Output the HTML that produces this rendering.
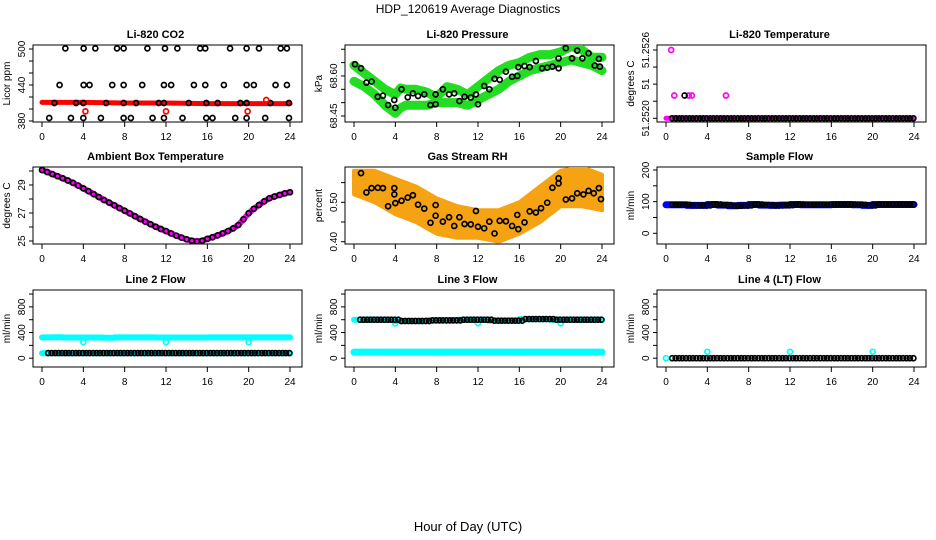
<!DOCTYPE html>
<html><head><meta charset="utf-8">
<style>
html,body{margin:0;padding:0;background:#fff;}
svg{display:block;font-family:"Liberation Sans",Arial,sans-serif;}
</style></head>
<body>
<svg id="c" width="936" height="540" viewBox="0 0 936 540" xmlns="http://www.w3.org/2000/svg">
<text x="468" y="13" font-size="12" text-anchor="middle">HDP_120619  Average Diagnostics</text>
<text x="468" y="531" font-size="13" text-anchor="middle">Hour of Day (UTC)</text>
</svg>
<script>
// ---------- data ----------
const xTicks = [0,4,8,12,16,20,24];
// CO2
const co2BandHours = [0,4,8,12,16,20,24];
const co2BandVals = [411,411,410,410,409,409,409];
const co2Hours = [2.26,4.03,5.16,7.26,7.9,10.2,11.9,13.1,15.3,15.8,18.2,19.8,21,23.1,23.7,
 1.7,4.03,4.6,6.8,7.9,9.7,11.8,12.5,14.7,15.8,17.6,19.8,20.5,22.6,23.7,
 1.2,3.3,4.0,6.2,7.9,9.1,11.3,11.8,14.2,15.9,17.0,19.2,19.8,22.1,23.9,
 0.7,2.8,4.0,5.7,7.9,8.6,10.7,11.8,13.6,15.9,16.5,18.7,19.8,21.6,23.9];
const co2Vals = [501,501,501,501,501,501,501,501,501,501,501,501,501,501,501,
 440,440,440,440,440,440,440,440,440,440,440,440,440,440,440,
 410,410,410,410,410,410,410,410,410,410,410,410,410,410,410,
 385,385,385,385,385,385,385,385,385,385,385,385,385,385,385];
const co2RedHours = [4.2,12,19.9,21.7];
const co2RedVals = [396,396,396,415];
// Pressure
const presBandHours = [0,1,2,3,4,4.5,5,6,7,8,9,10,11,12,13,14,15,16,17,18,19,20,21,22,23,24];
const presUpper = [68.64,68.61,68.58,68.55,68.53,68.555,68.55,68.55,68.54,68.52,68.56,68.55,68.53,68.56,68.59,68.62,68.64,68.65,68.67,68.68,68.68,68.69,68.71,68.70,68.67,68.67];
const presLower = [68.58,68.56,68.53,68.49,68.46,68.48,68.49,68.49,68.49,68.50,68.50,68.50,68.49,68.51,68.53,68.55,68.58,68.60,68.62,68.63,68.64,68.65,68.66,68.65,68.64,68.62];
const presHours = [0.1,0.68,1.2,1.7,2.3,2.8,3.3,3.9,4.0,4.6,5.2,5.7,6.2,6.8,7.4,7.9,7.9,8.6,9.2,9.7,10.2,10.7,11.3,11.8,12,12.6,13.1,13.6,14.1,14.7,15.3,15.8,15.9,16.5,17,17.6,18.2,18.7,19.2,19.8,19.8,20.5,21.1,21.6,22.1,22.7,23.3,23.7,23.8];
const presVals = [68.644,68.629,68.575,68.579,68.522,68.526,68.491,68.51,68.481,68.55,68.52,68.535,68.525,68.531,68.491,68.531,68.494,68.55,68.531,68.535,68.506,68.522,68.519,68.531,68.494,68.5625,68.55,68.589,68.586,68.616,68.597,68.60,68.633,68.6375,68.633,68.656,68.629,68.631,68.635,68.666,68.629,68.704,68.666,68.695,68.666,68.685,68.639,68.664,68.635];
// Li-820 temperature
const tempBandHours = [0,24];
const tempBandVals = [51.2520,51.2520];
const tempOutHours = [0.5,0.8,2.2,2.5,5.8];
const tempOutVals = [51.2526,51.2522,51.2522,51.2522,51.2522];
const tempBlkOutHours = [1.8];
const tempBlkOutVals = [51.2522];
// Ambient box temperature (half-hour steps)
const ambientVals = [30.07,29.93,29.78,29.63,29.48,29.32,29.15,28.96,28.76,28.56,28.35,28.14,27.93,27.74,27.55,27.35,27.16,26.97,26.77,26.57,26.38,26.2,26.02,25.86,25.71,25.54,25.38,25.24,25.12,25.02,24.97,25.02,25.15,25.27,25.40,25.55,25.71,25.9,26.14,26.55,26.98,27.3,27.57,27.83,28.05,28.18,28.29,28.4,28.48];
// Gas stream RH
const rhBandHours = [0,2,4,6,8,10,12,14,16,18,20,22,24];
const rhUpper = [0.58,0.58,0.56,0.54,0.51,0.49,0.48,0.48,0.50,0.54,0.58,0.59,0.57];
const rhLower = [0.52,0.50,0.47,0.45,0.42,0.41,0.41,0.40,0.42,0.45,0.49,0.49,0.48];
const rhHours = [0.68,1.2,1.7,2.3,2.8,3.3,3.9,3.9,4.0,4.6,5.2,5.7,6.2,6.8,7.4,7.9,7.9,8.6,9.2,9.7,10.2,10.7,11.3,11.8,12,12.6,13.1,13.6,14.1,14.7,15.3,15.8,15.9,16.5,17,17.6,18.1,18.7,19.2,19.8,19.8,20.5,21.1,21.6,22.2,22.7,23.2,23.7,23.9];
const rhVals = [0.574,0.525,0.536,0.537,0.536,0.49,0.536,0.52,0.498,0.504,0.512,0.518,0.494,0.484,0.448,0.493,0.466,0.451,0.462,0.44,0.462,0.445,0.444,0.478,0.438,0.434,0.451,0.421,0.453,0.452,0.44,0.468,0.432,0.449,0.477,0.474,0.485,0.499,0.537,0.561,0.548,0.507,0.51,0.523,0.52,0.529,0.523,0.536,0.508];
// Flows (hourly values, hours 0..23)
const sampleFlow = [90,90,88,88,91,89,87,88,91,89,88,89,91,90,90,90,91,91,90,88,91,91,91,91];
const line2Upper = [325,328,322,322,322,322,320,325,325,325,325,322,322,322,322,322,325,325,325,325,325,325,325,325];
const line2Lower = [80,80,80,80,80,80,80,80,80,80,80,80,80,80,80,80,80,80,80,80,80,80,80,80];
const line2DipHours = [4,12,20];
const line2DipVals = [250,250,250];
const line3Upper = [600,600,600,600,580,580,580,590,590,590,600,600,600,585,585,585,610,610,610,600,600,600,600,600];
const line3Lower = [95,95,95,95,95,95,95,95,95,95,95,95,95,95,95,95,95,95,95,95,95,95,95,95];
const line3DipHours = [4,12,20];
const line3DipVals = [545,545,545];
const line4Vals = [0,0,0,0,0,0,0,0,0,0,0,0,0,0,0,0,0,0,0,0,0,0,0,0];
const line4CyanHours = [0,4,12,20];
const line4CyanVals = [0,100,100,100];

// ---------- drawing ----------
const NS = "http://www.w3.org/2000/svg";
const svg = document.getElementById('c');
function mk(tag, attrs, parent){
  const e = document.createElementNS(NS, tag);
  for (const k in attrs) e.setAttribute(k, attrs[k]);
  (parent||svg).appendChild(e);
  return e;
}
const colL = [33,345,657], W = 269;
const rowT = [45,167,290], H = 77;
function panel(col,row,name,title,ylab,yLo,yHi,ticks,labels){
  const L = colL[col], T = rowT[row];
  const g = mk('g',{});
  
  
  const p = {L,T,g,
    x: h => L + 9 + h*248/24,
    y: v => T + H - (v - yLo)/(yHi - yLo)*H};
  const fr = mk('rect',{x:L,y:T,width:W,height:H,fill:'none',stroke:'#000','stroke-width':1},g);
  
  
  const t = mk('text',{x:L+W/2-12,y:T-7,'font-size':11,'font-weight':'bold','text-anchor':'middle'},g);
  
  
  t.textContent = title;
  const yl = mk('text',{x:0,y:0,'font-size':10,'text-anchor':'middle',transform:`translate(${L-23},${T+H/2}) rotate(-90)`},g);
  
  
  yl.textContent = ylab;
  const xa = mk('g',{},g);
  
  
  mk('line',{x1:p.x(0),x2:p.x(24),y1:T+H,y2:T+H,stroke:'#000'},xa);
  xTicks.forEach(h=>{
    mk('line',{x1:p.x(h),x2:p.x(h),y1:T+H,y2:T+H+5,stroke:'#000'},xa);
    const tl = mk('text',{x:p.x(h),y:T+H+18,'font-size':10,'text-anchor':'middle'},xa);
    
    
    tl.textContent = h;
  });
  const ya = mk('g',{},g);
  
  
  mk('line',{x1:L,x2:L,y1:p.y(ticks[0]),y2:p.y(ticks[ticks.length-1]),stroke:'#000'},ya);
  ticks.forEach((v,i)=>{
    mk('line',{x1:L-4,x2:L,y1:p.y(v),y2:p.y(v),stroke:'#000'},ya);
    if (labels[i]!==''){
      const tl = mk('text',{x:0,y:0,'font-size':10,'text-anchor':'middle',transform:`translate(${L-8},${p.y(v)}) rotate(-90)`},ya);
      
      
      tl.textContent = labels[i];
    }
  });
  p.clip = 'clip'+col+row;
  const cp = mk('clipPath',{id:p.clip},g);
  mk('rect',{x:L,y:T,width:W,height:H},cp);
  p.plot = mk('g',{'clip-path':`url(#${p.clip})`},g);
  return p;
}
function band(p,hours,vals,color,w,name){
  const pts = hours.map((h,i)=>p.x(h).toFixed(1)+','+p.y(vals[i]).toFixed(1)).join(' ');
  const e = mk('polyline',{points:pts,fill:'none',stroke:color,'stroke-width':w,'stroke-linecap':'round','stroke-linejoin':'round'},p.plot);
  
  
}
function area(p,hours,up,lo,color,name){
  const a = hours.map((h,i)=>p.x(h).toFixed(1)+','+p.y(up[i]).toFixed(1));
  const b = hours.map((h,i)=>p.x(h).toFixed(1)+','+p.y(lo[i]).toFixed(1)).reverse();
  const e = mk('polygon',{points:a.concat(b).join(' '),fill:color,stroke:color,'stroke-width':4,'stroke-linejoin':'round'},p.plot);
  
  
}
function pts(p,hours,vals,color,name){
  hours.forEach((h,i)=>{
    const e = mk('circle',{cx:p.x(h),cy:p.y(vals[i]),r:2.5,fill:'none',stroke:color,'stroke-width':1.7},p.plot);
    
    
  });
}
function hourlyPts(p,vals,color,name,start){
  const hs=[], vs=[];
  vals.forEach((v,k)=>{ for(let j=0;j<3;j++){ const h=k+start+j*0.34; if(h<=24){hs.push(h);vs.push(v);} } });
  pts(p,hs,vs,color,name);
}
function hourlyBand(p,vals,color,w,name){
  const hs=[], vs=[];
  vals.forEach((v,k)=>{hs.push(k);vs.push(v);hs.push(k+1);vs.push(v);});
  band(p,hs,vs,color,w,name);
}

let p = panel(0,0,'co2','Li-820 CO2','Licor ppm',378.3,506.7,[380,400,420,440,460,480,500],['380','','','440','','','500']);
band(p,co2BandHours,co2BandVals,'#ff0000',5,'co2-red-band');
pts(p,co2Hours,co2Vals,'#000','co2-point');
pts(p,co2RedHours,co2RedVals,'#ff0000','co2-red-point');

p = panel(1,0,'pressure','Li-820 Pressure','kPa',68.4275,68.716,[68.45,68.50,68.55,68.60,68.65,68.70],['68.45','','','68.60','','']);
band(p,presBandHours,presUpper,'#22dd22',9,'pressure-upper-band');
band(p,presBandHours,presLower,'#22dd22',9,'pressure-lower-band');
pts(p,presHours,presVals,'#000','pressure-point');

p = panel(2,0,'li820-temp','Li-820 Temperature','degrees C',51.2519675,51.252644,[51.2520,51.25215,51.2523,51.25245,51.2526],['51.2520','','51','','51.2526']);
band(p,tempBandHours,tempBandVals,'#ff00ff',5,'li820-temp-band');
hourlyPts(p,[51.2520,51.2520,51.2520,51.2520,51.2520,51.2520,51.2520,51.2520,51.2520,51.2520,51.2520,51.2520,51.2520,51.2520,51.2520,51.2520,51.2520,51.2520,51.2520,51.2520,51.2520,51.2520,51.2520,51.2520],'#000','li820-temp-point',0.6);
pts(p,tempOutHours,tempOutVals,'#ff00ff','li820-temp-outlier');
pts(p,tempBlkOutHours,tempBlkOutVals,'#000','li820-temp-outlier');

p = panel(0,1,'ambient','Ambient Box Temperature','degrees C',24.786,30.286,[25,26,27,28,29,30],['25','','27','','29','']);
const ambHours = ambientVals.map((v,i)=>i*0.5);
band(p,ambHours,ambientVals,'#ff00ff',6,'ambient-band');
pts(p,ambHours,ambientVals,'#000','ambient-point');

p = panel(1,1,'rh','Gas Stream RH','percent',0.3942,0.5896,[0.40,0.45,0.50,0.55],['0.40','','0.50','']);
area(p,rhBandHours,rhUpper,rhLower,'#f6a313','rh-band');
pts(p,rhHours,rhVals,'#000','rh-point');

p = panel(2,1,'sample-flow','Sample Flow','ml/min',-33.8,209.4,[0,50,100,150,200],['0','','100','','200']);
hourlyBand(p,sampleFlow,'#0000ff',7,'sample-flow-band');
hourlyPts(p,sampleFlow,'#000','sample-flow-point',0.6);

p = panel(0,2,'line2','Line 2 Flow','ml/min',-137,1063,[0,200,400,600,800,1000],['0','','400','','800','']);
hourlyBand(p,line2Upper,'#00ffff',6,'line2-upper-band');
hourlyBand(p,line2Lower,'#00ffff',6,'line2-lower-band');
pts(p,line2DipHours,line2DipVals,'#00ffff','line2-dip');
hourlyPts(p,line2Lower,'#000','line2-point',0.6);

p = panel(1,2,'line3','Line 3 Flow','ml/min',-137,1063,[0,200,400,600,800,1000],['0','','400','','800','']);
hourlyBand(p,line3Upper,'#00ffff',6,'line3-upper-band');
hourlyBand(p,line3Lower,'#00ffff',7,'line3-lower-band');
pts(p,line3DipHours,line3DipVals,'#00ffff','line3-dip');
hourlyPts(p,line3Upper,'#000','line3-point',0.6);

p = panel(2,2,'line4','Line 4 (LT) Flow','ml/min',-137,1063,[0,200,400,600,800,1000],['0','','400','','800','']);
hourlyPts(p,line4Vals,'#000','line4-point',0.6);
pts(p,line4CyanHours,line4CyanVals,'#00ffff','line4-cyan-point');
</script>
</body></html>
